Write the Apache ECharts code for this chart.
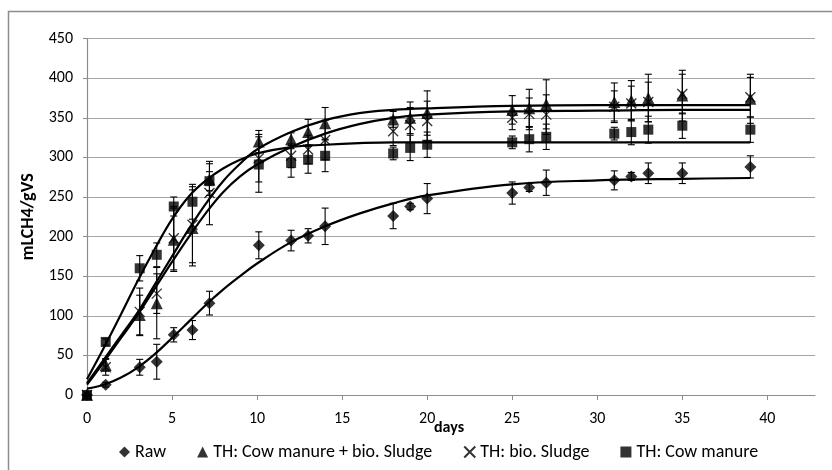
<!DOCTYPE html>
<html>
<head>
<meta charset="utf-8">
<script src="https://cdn.jsdelivr.net/npm/echarts@6/dist/echarts.min.js"></script>
<style>html,body{margin:0;padding:0;background:#fff}#c{width:832px;height:470px}</style>
</head>
<body>
<div id="c"></div>
<script>
// ---- data ----
const days = [0, 1.1, 3.1, 4.1, 5.1, 6.2, 7.2, 10.1, 12, 13, 14, 18, 19, 20, 25, 26, 27, 31, 32, 33, 35, 39];

const rawVals = [0, 13, 35, 42, 76, 82, 116, 189, 195, 201, 213, 226, 238, 248, 255, 262, 268, 271, 276, 280, 280, 288];
const rawErr  = [0, 3, 10, 22, 9, 12, 15, 17, 13, 9, 23, 16, 4, 19, 14, 5, 16, 12, 5, 13, 13, 14];

const cowBioVals = [0, 38, 101, 116, 196, 211, 272, 320, 323, 332, 343, 348, 350, 356, 360, 362, 367, 370, 372, 375, 378, 374];
const cowBioErr  = [0, 8, 25, 45, 40, 48, 20, 14, 8, 16, 20, 10, 20, 28, 18, 24, 31, 24, 25, 30, 32, 31];

const bioVals = [0, 35, 105, 128, 198, 215, 255, 299, 302, 310, 322, 333, 341, 346, 350, 355, 354, 364, 368, 370, 380, 376];
const bioErr  = [0, 10, 30, 25, 40, 48, 40, 30, 15, 18, 25, 18, 22, 25, 15, 20, 25, 20, 22, 25, 25, 25];

const cowVals = [0, 67, 160, 177, 238, 244, 270, 291, 293, 297, 302, 305, 312, 316, 319, 323, 326, 330, 332, 335, 340, 335];
const cowErr  = [0, 4, 16, 15, 12, 22, 12, 35, 18, 17, 20, 8, 16, 16, 8, 16, 16, 8, 16, 17, 16, 16];

// fitted curves
const fitDays   = [0, 1, 2, 3, 4, 5, 6, 7, 8, 9, 10, 12, 14, 16, 18, 20, 25, 30, 35, 39];
const rawFit    = [8, 13, 22, 35, 52, 72, 93, 114, 133, 150, 166, 193, 213, 229, 242, 252, 266, 271, 273, 274];
const cowBioFit = [15, 45, 75, 105, 140, 175, 210, 242, 270, 292, 310, 332, 347, 356, 360, 362, 365, 366, 366, 366];
const bioFit    = [13, 42, 72, 102, 135, 168, 200, 230, 256, 276, 291, 313, 330, 342, 350, 354, 358, 359, 360, 360];
const cowFit    = [20, 60, 102, 145, 185, 222, 251, 271, 286, 297, 305, 313, 316, 318, 319, 319, 319, 319, 319, 319];

const xTicks = [0, 5, 10, 15, 20, 25, 30, 35, 40];
const names = ['Raw', 'TH: Cow manure + bio. Sludge', 'TH: bio. Sludge', 'TH: Cow manure'];

// ---- chart ----
const FONT = 'Carlito, Lato, "Liberation Sans", sans-serif';
const xPath = 'path://M0,0L10,10M10,0L0,10';
const chart = echarts.init(document.getElementById('c'), null, {renderer: 'canvas'});

function pts(vals) { return days.map((d, i) => [d, vals[i]]); }
function fit(vals) { return fitDays.map((d, i) => [d, vals[i]]); }

function errSeries(vals, errs) {
  return {
    type: 'custom',
    silent: true,
    z: 3,
    data: days.map((d, i) => [d, vals[i], errs[i]]),
    encode: {x: 0, y: 1},
    renderItem: function (params, api) {
      const x = api.value(0), y = api.value(1), e = api.value(2);
      if (!e) return null;
      const t = api.coord([x, y + e]), b = api.coord([x, y - e]);
      const hw = 3.5, st = {stroke: '#000', lineWidth: 1.1};
      return {type: 'group', children: [
        {type: 'line', shape: {x1: t[0], y1: t[1], x2: b[0], y2: b[1]}, style: st},
        {type: 'line', shape: {x1: t[0] - hw, y1: t[1], x2: t[0] + hw, y2: t[1]}, style: st},
        {type: 'line', shape: {x1: b[0] - hw, y1: b[1], x2: b[0] + hw, y2: b[1]}, style: st}
      ]};
    }
  };
}

function fitSeries(vals) {
  return {type: 'line', data: fit(vals), smooth: 0.4, symbol: 'none', silent: true, z: 2,
    lineStyle: {color: '#000', width: 2.2}};
}

const option = {
  animation: false,
  backgroundColor: '#fff',
  grid: {left: 87, right: 17, top: 38.6, bottom: 75},
  graphic: [{
    type: 'rect', shape: {x: 8.5, y: 11.5, width: 835, height: 470},
    style: {fill: 'none', stroke: '#8c8c8c', lineWidth: 1.5}, silent: true
  }, {
    type: 'text', left: 434, top: 420,
    style: {text: 'days', font: 'bold 16px ' + FONT, fill: '#000'}
  }],
  legend: {
    bottom: 4, left: 114, itemGap: 31, itemWidth: 11, itemHeight: 11,
    textStyle: {fontFamily: FONT, fontSize: 18, color: '#000'},
    data: [
      {name: names[0], icon: 'diamond'},
      {name: names[1], icon: 'triangle'},
      {name: names[2], icon: xPath},
      {name: names[3], icon: 'rect'}
    ]
  },
  xAxis: {
    type: 'value', min: 0, max: 42.8,
    axisLine: {show: true, onZero: false, lineStyle: {color: '#8c8c8c', width: 1.2}},
    axisTick: {show: true, length: 5, customValues: xTicks, lineStyle: {color: '#8c8c8c'}},
    axisLabel: {customValues: xTicks, margin: 16, fontFamily: FONT, fontSize: 16, color: '#000'},
    splitLine: {show: false}
  },
  yAxis: {
    type: 'value', min: 0, max: 450, interval: 50,
    name: 'mLCH4/gVS', nameLocation: 'middle', nameGap: 43, nameRotate: 90,
    nameTextStyle: {fontFamily: FONT, fontSize: 18, fontWeight: 'bold', color: '#000'},
    axisLine: {show: true, lineStyle: {color: '#8c8c8c', width: 1.2}},
    axisTick: {show: true, length: 4, lineStyle: {color: '#8c8c8c'}},
    axisLabel: {margin: 14, fontFamily: FONT, fontSize: 16, color: '#000'},
    splitLine: {show: true, lineStyle: {color: '#a6a6a6', width: 1.2}}
  },
  series: [
    fitSeries(rawFit), fitSeries(cowBioFit), fitSeries(bioFit), fitSeries(cowFit),
    errSeries(rawVals, rawErr), errSeries(cowBioVals, cowBioErr), errSeries(bioVals, bioErr), errSeries(cowVals, cowErr),
    {name: names[0], type: 'scatter', symbol: 'diamond', symbolSize: 12, z: 5, data: pts(rawVals), itemStyle: {color: '#000'}},
    {name: names[1], type: 'scatter', symbol: 'triangle', symbolSize: 12, z: 5, data: pts(cowBioVals), itemStyle: {color: '#000'}},
    {name: names[2], type: 'scatter', symbol: xPath, symbolSize: 10, z: 5, data: pts(bioVals),
      itemStyle: {color: 'rgba(0,0,0,0)', borderColor: '#000', borderWidth: 1.3}},
    {name: names[3], type: 'scatter', symbol: 'rect', symbolSize: 10, z: 5, data: pts(cowVals), itemStyle: {color: '#000'}}
  ]
};
chart.setOption(option);
</script>
</body>
</html>
